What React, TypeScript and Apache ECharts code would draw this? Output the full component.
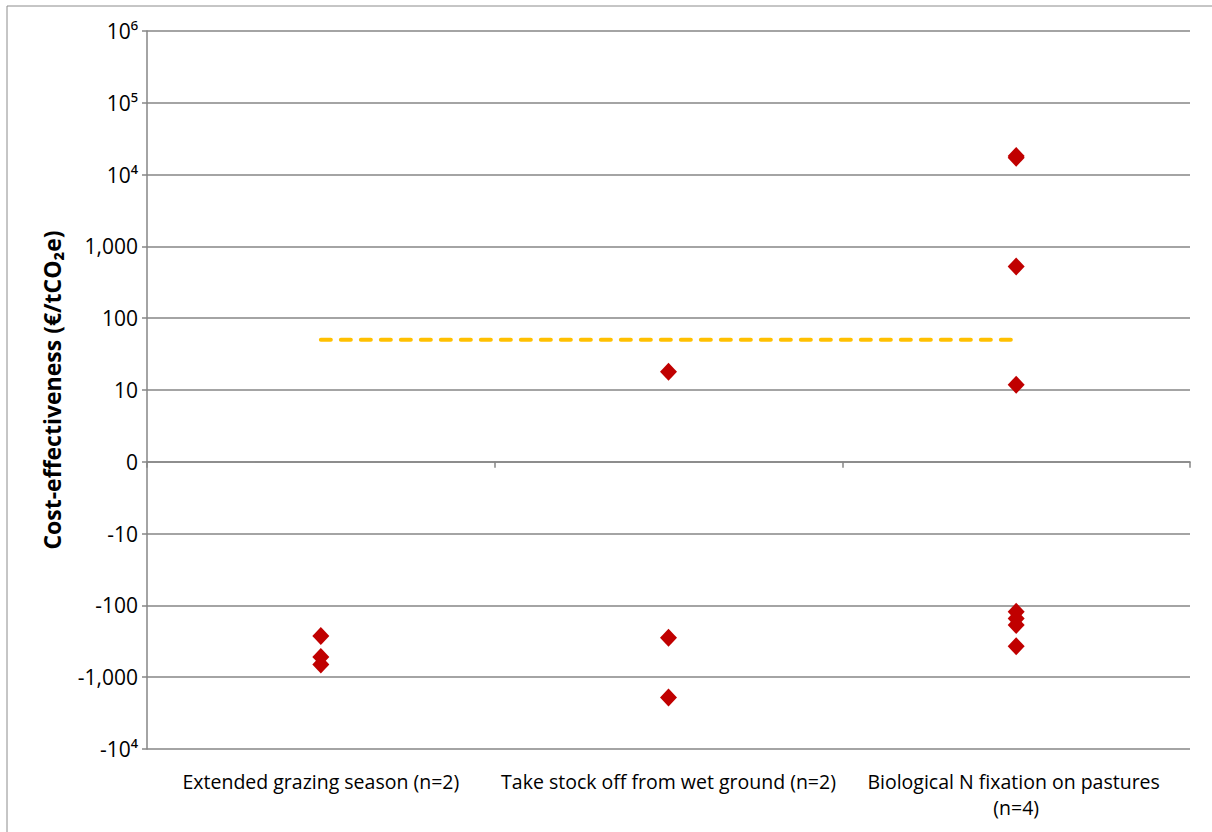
import React, { useEffect, useRef } from "react";
import * as echarts from "echarts";

const categories = [
  "Extended grazing season (n=2)",
  "Take stock off from wet ground (n=2)",
  "Biological N fixation on pastures (n=4)",
];
const grazingValues = [-267, -525, -667];
const wetGroundValues = [18, -283, -1920];
const nFixationValues = [18200, 17100, 523, 11.8, -123, -152, -187, -371];
const thresholdValues = [50, 50, 50];
const yTickLabels = [
  "-10⁴",
  "-1,000",
  "-100",
  "-10",
  "0",
  "10",
  "100",
  "1,000",
  "10⁴",
  "10⁵",
  "10⁶",
];

// symmetric log transform used by the chart's axis (0 at centre, one decade per step)
const tf = (v: number) => {
  const a = Math.abs(v);
  if (a < 10) return v / 10;
  return Math.sign(v) * Math.log10(a);
};

const FONT = "Open Sans";

export default function App() {
  const ref = useRef<HTMLDivElement>(null);
  useEffect(() => {
    if (!ref.current) return;
    const chart = echarts.init(ref.current, null, { renderer: "svg" });
    const pts = (vals: number[], idx: number) => vals.map((v) => [idx, tf(v)]);
    const option: any = {
      animation: false,
      backgroundColor: "#ffffff",
      textStyle: { fontFamily: FONT },
      graphic: [
        {
          type: "rect",
          shape: { x: 7, y: 6, width: 1400, height: 1000 },
          style: { fill: "none", stroke: "#8c8c8c", lineWidth: 1 },
          silent: true,
        },
      ],
      grid: { left: 147, right: 22, top: 31, bottom: 83 },
      xAxis: [
        {
          type: "category",
          data: categories,
          position: "bottom",
          axisLine: { show: false, onZero: false },
          axisTick: { show: false },
          axisLabel: {
            interval: 0,
            margin: 19,
            color: "#000",
            fontFamily: FONT,
            fontSize: 19.5,
            lineHeight: 26,
            width: 340,
            overflow: "break",
          },
          splitLine: { show: false },
        },
        {
          type: "category",
          data: categories,
          position: "bottom",
          axisLine: { show: true, onZero: true, lineStyle: { color: "#868686", width: 1.5 } },
          axisTick: { show: true, length: 6, lineStyle: { color: "#868686", width: 1.5 } },
          axisLabel: { show: false },
          splitLine: { show: false },
        },
      ],
      yAxis: {
        type: "value",
        min: -4,
        max: 6,
        interval: 1,
        name: "Cost-effectiveness (€/tCO₂e)",
        nameLocation: "middle",
        nameGap: 84,
        nameTextStyle: {
          fontFamily: FONT,
          fontSize: 23,
          fontWeight: "bold",
          color: "#000",
        },
        axisLine: { show: true, lineStyle: { color: "#868686", width: 1.5 } },
        axisTick: { show: true, length: 5, lineStyle: { color: "#868686", width: 1.5 } },
        splitLine: { show: true, lineStyle: { color: "#868686", width: 1.5 } },
        axisLabel: {
          margin: 9,
          color: "#000",
          fontFamily: FONT,
          fontSize: 21,
          formatter: (v: number) => yTickLabels[Math.round(v) + 4],
        },
      },
      series: [
        {
          type: "line",
          xAxisIndex: 0,
          data: thresholdValues.map(tf),
          symbol: "none",
          lineStyle: { color: "#FFC000", width: 4, type: [10, 10], cap: "round" },
          z: 2,
        },
        {
          type: "scatter",
          xAxisIndex: 0,
          data: [...pts(grazingValues, 0), ...pts(wetGroundValues, 1), ...pts(nFixationValues, 2)],
          symbol: "diamond",
          symbolSize: [17, 18],
          itemStyle: { color: "#C00000", opacity: 1 },
          z: 3,
        },
      ],
    };
    chart.setOption(option);
    return () => chart.dispose();
  }, []);
  return (
    <div
      ref={ref}
      style={{ position: "fixed", left: 0, top: 0, width: 1212, height: 832, background: "#fff" }}
    />
  );
}
